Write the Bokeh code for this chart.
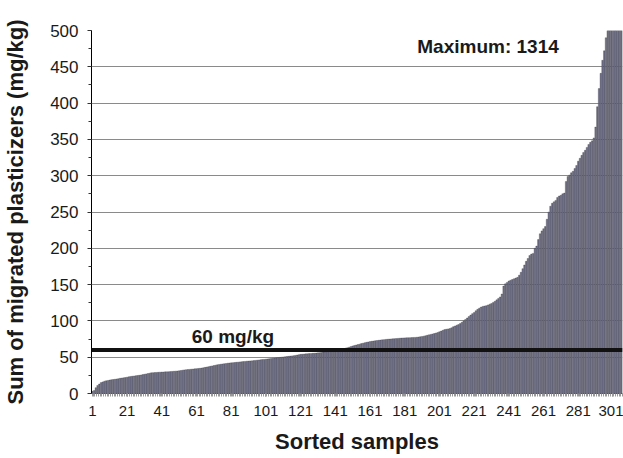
from bokeh.plotting import figure
from bokeh.models import Range1d, FixedTicker, SingleIntervalTicker, Span
from bokeh.core.properties import value
from bokeh.embed import file_html
from bokeh.resources import INLINE

# Sorted samples: migrated plasticizer sums (mg/kg)
values = [
    3, 4, 8, 11, 13, 15, 16, 17, 17.5, 18,
    18.5, 19, 19.3, 19.6, 20, 20.4, 21, 21.3, 21.6, 22,
    22.5, 23, 23.5, 23.8, 24.1, 24.5, 24.8, 25.1, 25.5, 26,
    26.5, 27, 27.5, 28, 28.5, 28.7, 28.9, 29, 29.2, 29.4,
    29.5, 29.6, 29.8, 29.9, 30, 30.2, 30.4, 30.6, 30.8, 31,
    31.3, 31.7, 32.1, 32.5, 32.8, 33, 33.2, 33.5, 33.7, 34,
    34.2, 34.5, 34.7, 35, 35.5, 36, 36.5, 37, 37.5, 38,
    38.5, 39, 39.5, 40, 40.3, 40.7, 41, 41.3, 41.7, 42,
    42.2, 42.5, 42.7, 43, 43.2, 43.5, 43.7, 44, 44.2, 44.5,
    44.7, 44.9, 45, 45.3, 45.6, 45.9, 46.2, 46.5, 46.8, 47,
    47.3, 47.6, 47.9, 48.2, 48.5, 48.8, 49.1, 49.4, 49.7, 50,
    50.3, 50.6, 50.9, 51.2, 51.5, 51.8, 52.1, 52.5, 53, 53.5,
    54, 54.2, 54.4, 54.6, 54.8, 55, 55.2, 55.4, 55.6, 55.8,
    56, 56.2, 56.5, 57, 57.4, 57.8, 58.2, 58.6, 59, 59.3,
    59.5, 60, 60.5, 61, 61.5, 62, 62.5, 63, 63.8, 64.6,
    65.5, 66.2, 66.8, 67.4, 68, 68.7, 69.3, 70, 70.5, 71,
    71.5, 71.9, 72.3, 72.7, 73, 73.3, 73.6, 73.9, 74.2, 74.5,
    74.7, 74.9, 75.1, 75.3, 75.5, 75.7, 75.9, 76.1, 76.3, 76.5,
    76.6, 76.7, 76.8, 76.9, 77, 77.2, 77.3, 77.5, 77.8, 78.2,
    78.6, 79, 79.6, 80.2, 80.8, 81.4, 82, 82.6, 83.3, 84,
    85, 86, 87, 88, 88.5, 89, 89.5, 90.5, 92, 93,
    94, 95, 96.5, 98, 100, 102, 104, 106, 108, 110,
    111.5, 114, 116, 117.5, 119, 120, 120.5, 121, 122, 123,
    124, 125.5, 127, 129, 131, 133, 137, 148, 151, 153,
    155, 156, 157, 158, 159, 160, 163, 167, 172, 177,
    182, 186, 190, 192, 193, 200, 203, 212, 220, 224,
    227, 230, 240, 250, 258, 262, 264, 266, 270, 272,
    273, 275, 276, 292, 299, 301, 304, 306, 310, 314,
    320, 324, 328, 332, 335, 339, 343, 346, 348, 352,
    367, 395, 420, 441, 459, 472, 490, 540, 580, 620,
    680, 750, 830, 950, 1100, 1314,
]
samples = list(range(1, len(values) + 1))
x_tick_values = list(range(1, len(values) + 1, 20))
y_ticks_interval = 50
y_limit = 500
threshold = 60
threshold_label = "60 mg/kg"
max_label = "Maximum: " + str(max(values))

FONT = "Liberation Sans"

p = figure(width=623, height=458, output_backend="svg", toolbar_location=None,
           x_range=Range1d(0.5, len(values) + 0.5), y_range=Range1d(0, y_limit),
           min_border_left=90, min_border_right=1, min_border_top=30,
           min_border_bottom=65)
p.outline_line_color = None
p.background_fill_color = "white"

p.vbar(x=samples, top=values, bottom=0, width=0.9,
       fill_color="#72728a", line_color="#2e2e38", line_width=0.3)

p.add_layout(Span(location=threshold, dimension="width",
                  line_color="#111111", line_width=4))

p.text(x=[82], y=[78], text=[threshold_label], text_align="center",
       text_baseline="middle", text_font=value(FONT),
       text_font_style="bold", text_font_size="19px", text_color="#1a1a1a")
p.text(x=[229], y=[478], text=[max_label], text_align="center",
       text_baseline="middle", text_font=value(FONT),
       text_font_style="bold", text_font_size="19px", text_color="#1a1a1a")

# grid
p.xgrid.visible = False
p.ygrid.grid_line_color = "#8a8a8a"
p.ygrid.grid_line_width = 1
p.ygrid.ticker = SingleIntervalTicker(interval=y_ticks_interval)

# y axis
ya = p.yaxis[0]
ya.ticker = SingleIntervalTicker(interval=y_ticks_interval, num_minor_ticks=2)
ya.axis_line_color = "black"
ya.major_tick_in = 0
ya.major_tick_out = 4
ya.minor_tick_in = 0
ya.minor_tick_out = 3
ya.major_tick_line_color = "#333333"
ya.minor_tick_line_color = "#333333"
ya.major_label_text_font = FONT
ya.major_label_text_font_size = "17px"
ya.major_label_text_color = "#1a1a1a"
ya.major_label_standoff = 9
ya.axis_label = "Sum of migrated plasticizers (mg/kg)"
ya.axis_label_text_font = FONT
ya.axis_label_text_font_style = "bold"
ya.axis_label_text_font_size = "22px"
ya.axis_label_text_color = "#1a1a1a"
ya.axis_label_standoff = 19

# x axis
xa = p.xaxis[0]
xa.ticker = FixedTicker(ticks=x_tick_values,
                        minor_ticks=[s + 0.5 for s in samples])
xa.axis_line_color = "#555555"
xa.major_tick_in = 0
xa.major_tick_out = 3
xa.minor_tick_in = 0
xa.minor_tick_out = 3
xa.major_tick_line_color = "#999999"
xa.minor_tick_line_color = "#999999"
xa.major_label_text_font = FONT
xa.major_label_text_font_size = "15px"
xa.major_label_text_color = "#1a1a1a"
xa.major_label_standoff = 9
xa.axis_label = "Sorted samples"
xa.axis_label_text_font = FONT
xa.axis_label_text_font_style = "bold"
xa.axis_label_text_font_size = "22px"
xa.axis_label_text_color = "#1a1a1a"
xa.axis_label_standoff = 10

open("out.html", "w").write(file_html(p, INLINE))
